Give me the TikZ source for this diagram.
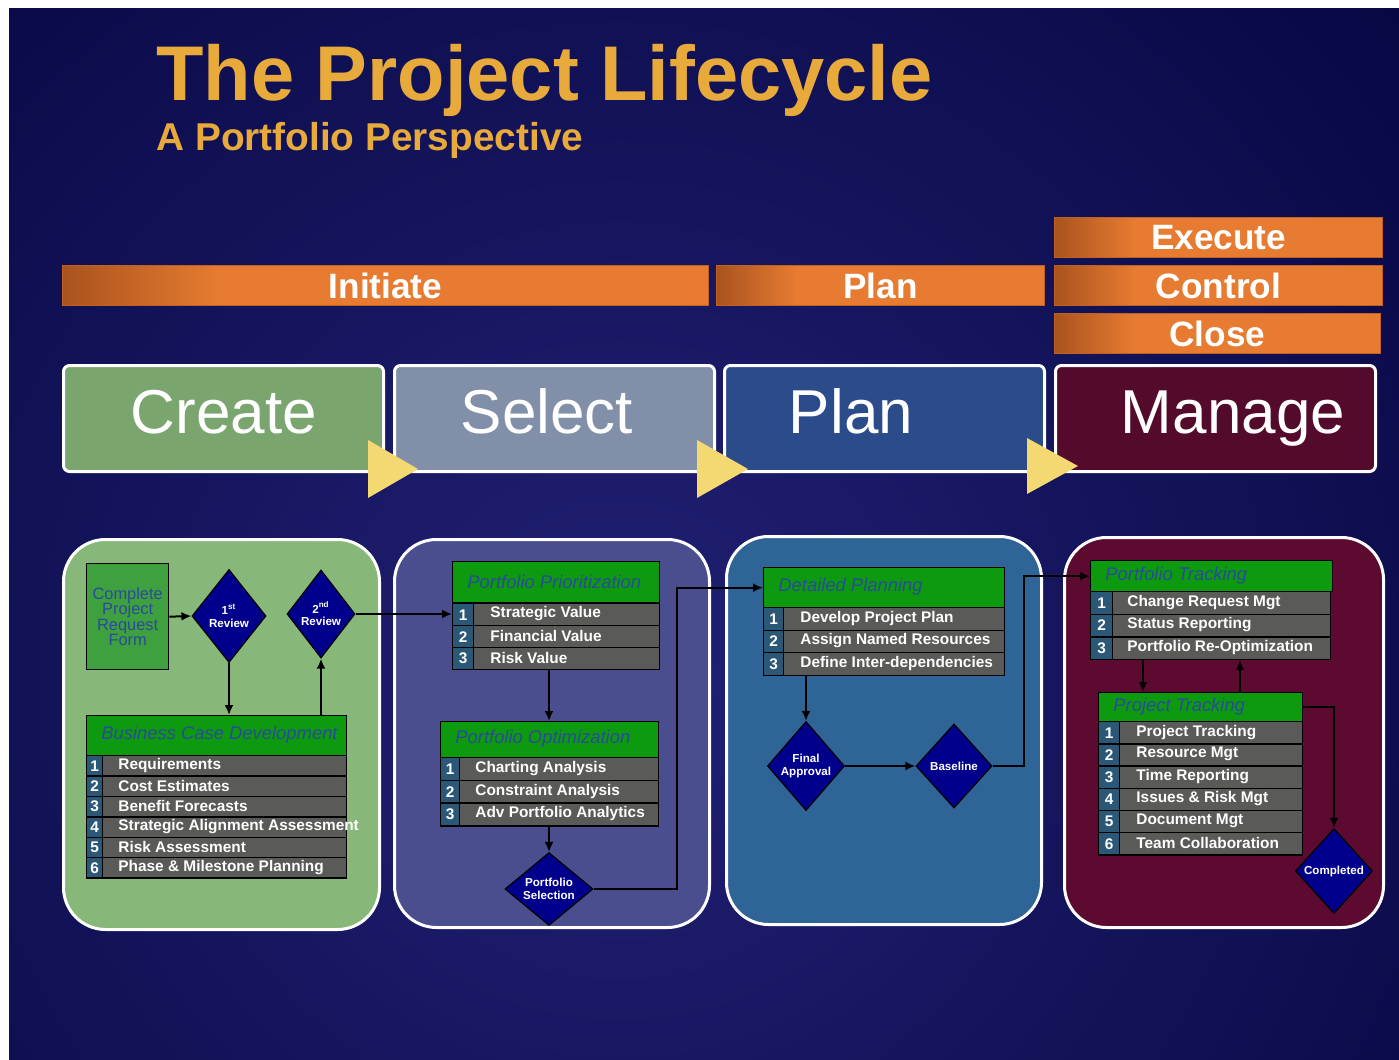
\documentclass[tikz,border=0pt]{standalone}
\usepackage{fontspec}
\setmainfont{Liberation Sans}
\usetikzlibrary{arrows.meta,shapes.geometric,calc}
\definecolor{bgdark}{HTML}{050540}
\definecolor{bglight}{HTML}{212174}
\definecolor{titlegold}{HTML}{E8AA3A}
\definecolor{barorange}{HTML}{E67B31}
\definecolor{bardark}{HTML}{A9531E}
\definecolor{barline}{HTML}{C4601F}
\definecolor{cCreate}{HTML}{7AA56F}
\definecolor{cSelect}{HTML}{8190A8}
\definecolor{cPlan}{HTML}{2B4B8B}
\definecolor{cManage}{HTML}{540A2A}
\definecolor{pOne}{HTML}{87B87A}
\definecolor{pTwo}{HTML}{4B4E8E}
\definecolor{pThree}{HTML}{2F6497}
\definecolor{pFour}{HTML}{5D0A30}
\definecolor{hdrgreen}{HTML}{0E9A0E}
\definecolor{hdrtext}{HTML}{2A4A9C}
\definecolor{numblue}{HTML}{2C5878}
\definecolor{rowgray}{HTML}{5A5A58}
\definecolor{boxgreen}{HTML}{3FA03F}
\definecolor{diablue}{HTML}{00008C}
\definecolor{triyellow}{HTML}{F4D872}
\pgfdeclarehorizontalshading{barshade}{100bp}{color(0bp)=(bardark); color(25bp)=(bardark); color(37bp)=(barorange); color(100bp)=(barorange)}
\newcommand\mkhead[6]{%
  \node[hdr,minimum width={#4*0.5pt},minimum height={#5*0.5pt}] (#1) at ({#2},{#3}) {};
  \node[hdrtxt] (#1t) at ({#2+15},{#3+#5/2}) {#6};
}
\newcommand\mkrow[9]{%
  \node[numcell,minimum width={#6*0.5pt},minimum height={#5*0.5pt}] (#1n) at ({#2},{#3}) {#8};
  \node[rowcell,minimum width={(#4-#6)*0.5pt},minimum height={#5*0.5pt}] (#1) at ({#2+#6},{#3}) {};
  \node[rowtext] (#1t) at ({#7},{#3+#5/2}) {#9};
}
\begin{document}
\begin{tikzpicture}[x=0.5pt,y=-0.5pt,
  conn/.style={draw=black,line width=1pt,-{Latex[length=5pt,width=4.5pt]}},
  bar/.style={draw=barline,line width=0.5pt,shading=barshade,anchor=north west,inner sep=0pt,minimum height=20pt,text=white,font=\bfseries\fontsize{17.6}{20}\selectfont},
  stage/.style={draw=white,line width=1.5pt,rounded corners=3pt,anchor=north west,inner sep=0pt,minimum width=160pt,minimum height=53pt},
  stagetext/.style={anchor=base,text=white,font=\fontsize{31}{34}\selectfont},
  panel/.style={draw=white,line width=1.5pt,rounded corners=21pt,anchor=north west,inner sep=0pt},
  hdr/.style={draw=black,line width=0.7pt,fill=hdrgreen,anchor=north west,inner sep=0pt},
  hdrtxt/.style={anchor=west,inner sep=0pt,text=hdrtext,font=\itshape\fontsize{9.2}{11}\selectfont},
  numcell/.style={draw=black,line width=0.7pt,fill=numblue,anchor=north west,inner sep=0pt,text=white,font=\bfseries\fontsize{7.7}{8}\selectfont},
  rowcell/.style={draw=black,line width=0.7pt,fill=rowgray,anchor=north west,inner sep=0pt},
  rowtext/.style={anchor=west,inner sep=0pt,text=white,font=\bfseries\fontsize{7.7}{8}\selectfont},
  dia/.style={diamond,draw=black,line width=0.6pt,fill=diablue,inner sep=0pt,text=white,align=center,font=\bfseries\fontsize{5.8}{6.4}\selectfont},
  tri/.style={fill=triyellow}
]
\useasboundingbox (0,0) rectangle (1399,1060);
\fill[white] (0,0) rectangle (1399,1060);
\fill[bgdark] (9,8) rectangle (1399,1060);
\begin{scope}
  \clip (9,8) rectangle (1399,1060);
  \shade[inner color=bglight,outer color=bgdark] (620,680) circle [radius=560pt];
\end{scope}

% title
\node[anchor=base west,inner sep=0pt,text=titlegold,font=\bfseries\fontsize{38.8}{42}\selectfont] (title) at (156,100) {The Project Lifecycle};
\node[anchor=base west,inner sep=0pt,text=titlegold,font=\bfseries\fontsize{19.4}{22}\selectfont] (subtitle) at (156,150) {A Portfolio Perspective};

% phase bars
\node[bar,minimum width=323pt] (bInit) at (62,265) {Initiate};
\node[bar,minimum width=164pt] (bPlan) at (716,265) {Plan};
\node[bar,minimum width=164pt] (bExec) at (1054,217) {Execute};
\node[bar,minimum width=164pt] (bCtrl) at (1054,265) {Control};
\node[bar,minimum width=163pt] (bClose) at (1054,313) {Close};

% stage boxes
\node[stage,fill=cCreate] (sCreate) at (62,364) {};
\node[stage,fill=cSelect] (sSelect) at (393,364) {};
\node[stage,fill=cPlan] (sPlan) at (723,364) {};
\node[stage,fill=cManage] (sManage) at (1054,364) {};
\node[stagetext] (tCreate) at (224,433) {Create};
\node[stagetext] (tSelect) at (547,433) {Select};
\node[stagetext] (tPlan) at (851,433) {Plan};
\node[stagetext] (tManage) at (1233,433) {Manage};
\fill[tri] (368,440) -- (418,469) -- (368,498) -- cycle;
\fill[tri] (697,440) -- (748,469) -- (697,498) -- cycle;
\fill[tri] (1027,438) -- (1078,466) -- (1027,494) -- cycle;

% panels
\node[panel,fill=pOne,minimum width=158pt,minimum height=195pt] (p1) at (62,538) {};
\node[panel,fill=pTwo,minimum width=157.5pt,minimum height=194pt] (p2) at (393,538) {};
\node[panel,fill=pThree,minimum width=157.5pt,minimum height=194pt] (p3) at (725,535) {};
\node[panel,fill=pFour,minimum width=159.5pt,minimum height=195pt] (p4) at (1063,536) {};

% panel 1
\node[draw=black,line width=0.7pt,fill=boxgreen,anchor=north west,minimum width=41pt,minimum height=53pt,inner sep=0pt,align=center,text=hdrtext,font=\fontsize{8.2}{7.8}\selectfont] (cprf) at (86,563) {Complete\\Project\\Request\\Form};
\node[dia,minimum width=37pt,minimum height=46.5pt] (d1) at (229,616) {1\textsuperscript{st}\\Review};
\node[dia,minimum width=34pt,minimum height=44pt] (d2) at (321,614) {2\textsuperscript{nd}\\Review};
\mkhead{bcd}{86}{715}{260}{40}{Business Case Development}
\foreach \rn/\rt [count=\i] in {1/Requirements,2/Cost Estimates,3/Benefit Forecasts,4/Strategic Alignment Assessment,5/Risk Assessment,6/Phase \& Milestone Planning}{%
  \pgfmathsetmacro\yy{755+(\i-1)*20.4}
  \mkrow{bcd\i}{86}{\yy}{260}{20.4}{16}{118}{\rn}{\rt}
}

% panel 2
\mkhead{pp}{452}{561}{207}{41}{Portfolio Prioritization}
\foreach \rn/\rt [count=\i] in {1/Strategic Value,2/Financial Value,3/Risk Value}{%
  \pgfmathsetmacro\yy{603+(\i-1)*22}
  \mkrow{pp\i}{452}{\yy}{207}{22}{21}{490}{\rn}{\rt}
}
\mkhead{po}{440}{721}{218}{36}{Portfolio Optimization}
\foreach \rn/\rt [count=\i] in {1/Charting Analysis,2/Constraint Analysis,3/Adv Portfolio Analytics}{%
  \pgfmathsetmacro\yy{757+(\i-1)*22.7}
  \mkrow{po\i}{440}{\yy}{218}{22.7}{19}{475}{\rn}{\rt}
}
\node[dia,minimum width=44pt,minimum height=29pt] (ps) at (549,889) {Portfolio\\Selection};

% panel 3
\mkhead{dp}{763}{567}{241}{40}{Detailed Planning}
\foreach \rn/\rt [count=\i] in {1/Develop Project Plan,2/Assign Named Resources,3/Define Inter-dependencies}{%
  \pgfmathsetmacro\yy{607+(\i-1)*22.5}
  \mkrow{dp\i}{763}{\yy}{241}{22.5}{20}{800}{\rn}{\rt}
}
\node[dia,minimum width=38.5pt,minimum height=44.5pt] (fa) at (806,766) {Final\\Approval};
\node[dia,minimum width=38pt,minimum height=42pt] (bl) at (954,766) {Baseline};

% panel 4
\mkhead{pk}{1090}{560}{242}{31}{Portfolio Tracking}
\foreach \rn/\rt [count=\i] in {1/Change Request Mgt,2/Status Reporting,3/Portfolio Re-Optimization}{%
  \pgfmathsetmacro\yy{591+(\i-1)*22.6}
  \mkrow{pk\i}{1090}{\yy}{240}{22.6}{22}{1127}{\rn}{\rt}
}
\mkhead{pr}{1098}{692}{204}{29}{Project Tracking}
\foreach \rn/\rt [count=\i] in {1/Project Tracking,2/Resource Mgt,3/Time Reporting,4/Issues \& Risk Mgt,5/Document Mgt,6/Team Collaboration}{%
  \pgfmathsetmacro\yy{721+(\i-1)*22.2}
  \mkrow{pr\i}{1098}{\yy}{204}{22.2}{21}{1136}{\rn}{\rt}
}
\node[dia,minimum width=38.5pt,minimum height=42.5pt] (cmp) at (1334,871) {Completed};

% connectors
\coordinate (jA) at (677,0);
\coordinate (jB) at (1024,0);
\coordinate (jC) at (1143,0);
\coordinate (jD) at (1240,0);
\draw[conn] (cprf.east) -- (d1.west);
\draw[conn] (d1.south) -- (d1.south |- bcd.north);
\draw[conn] (d2.south |- bcd.north) -- (d2.south);
\draw[conn] (d2.east) -- (d2.east -| pp1n.west);
\draw[conn] (ps.north |- pp3.south) -- (ps.north |- po.north);
\draw[conn] (ps.north |- po3.south) -- (ps.north);
\draw[conn] (ps.east) -| (jA |- dp.west) -- (dp.west);
\draw[conn] (fa.north |- dp3.south) -- (fa.north);
\draw[conn] (fa.east) -- (bl.west);
\draw[conn] (bl.east) -| (jB |- pk.west) -- (pk.west);
\draw[conn] (jC |- pk3.south) -- (jC |- pr.north);
\draw[conn] (jD |- pr.north) -- (jD |- pk3.south);
\draw[conn] (pr.east) -| (cmp.north);
\end{tikzpicture}
\end{document}
